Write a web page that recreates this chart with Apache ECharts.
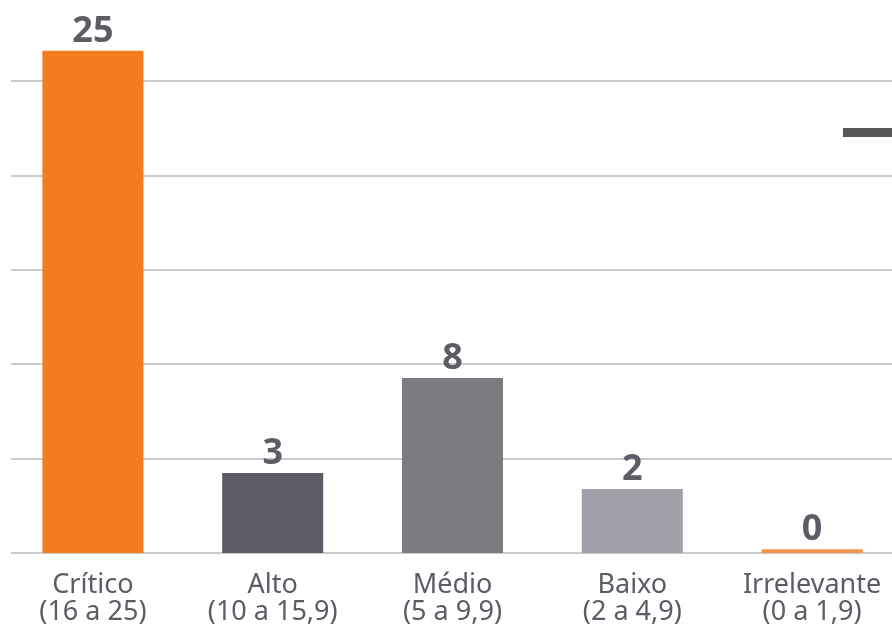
<!DOCTYPE html>
<html>
<head>
<meta charset="utf-8">
<title>Classificação de riscos</title>
<script src="https://cdn.jsdelivr.net/npm/echarts@6/dist/echarts.min.js"></script>
<style>
  * { margin: 0; padding: 0; }
  html, body { background: #fff; }
  #main { width: 892px; height: 630px; }
</style>
</head>
<body>
<div id="main"></div>
<script>
  // categorias e faixas
  let categorias = ['Crítico\n(16 a 25)', 'Alto\n(10 a 15,9)', 'Médio\n(5 a 9,9)', 'Baixo\n(2 a 4,9)', 'Irrelevante\n(0 a 1,9)'];
  // quantidade de riscos (rótulo em cima da barra)
  let quantidades = [25, 3, 8, 2, 0];
  let alturas = [26.6, 4.24, 9.27, 3.39, 0.2];
  let escala = [0, 25, 5]; // min, max, intervalo

  let cores = ['#F47B20', '#5C5C66', '#7B7B80', '#A0A0A8', '#F5954A'];
  let corTexto = '#5C5C66';

  let myChart = echarts.init(document.getElementById('main'));

  let option = {
    backgroundColor: '#ffffff',
    animation: false,
    textStyle: { fontFamily: 'Noto Sans' },
    grid: [
      // só para as linhas de grade
      { left: 11, width: 900, top: 81, bottom: 77, outerBoundsMode: 'none' },
      // barras (a última categoria passa um pouco da borda)
      { left: 3, width: 899, top: 81, bottom: 77, outerBoundsMode: 'none' }
    ],
    xAxis: [
      { gridIndex: 0, type: 'value', min: 0, max: 1, show: false },
      {
        gridIndex: 1,
        type: 'category',
        data: categorias,
        axisLine: { show: false },
        axisTick: { show: false },
        axisLabel: {
          interval: 0,
          margin: 19,
          color: corTexto,
          fontSize: 27,
          lineHeight: 27
        }
      }
    ],
    yAxis: [
      {
        gridIndex: 0,
        type: 'value',
        min: escala[0],
        max: escala[1],
        interval: escala[2],
        axisLine: { show: false },
        axisTick: { show: false },
        axisLabel: { show: false },
        splitLine: { show: true, lineStyle: { color: '#CACACA', width: 2 } }
      },
      {
        gridIndex: 1,
        type: 'value',
        min: escala[0],
        max: escala[1],
        show: false,
        splitLine: { show: false }
      }
    ],
    graphic: [
      // marcador cortado no canto superior direito
      { type: 'rect', left: 843, top: 128, shape: { width: 60, height: 9 }, style: { fill: '#58585B' } }
    ],
    series: [{
      type: 'bar',
      xAxisIndex: 1,
      yAxisIndex: 1,
      barWidth: 101,
      clip: false,
      data: alturas,
      itemStyle: {
        color: function (p) { return cores[p.dataIndex]; }
      },
      label: {
        show: true,
        position: 'top',
        distance: 1,
        color: corTexto,
        fontSize: 36,
        fontWeight: 'bold',
        formatter: function (p) { return quantidades[p.dataIndex]; }
      }
    }]
  };
  myChart.setOption(option);
</script>
</body>
</html>
